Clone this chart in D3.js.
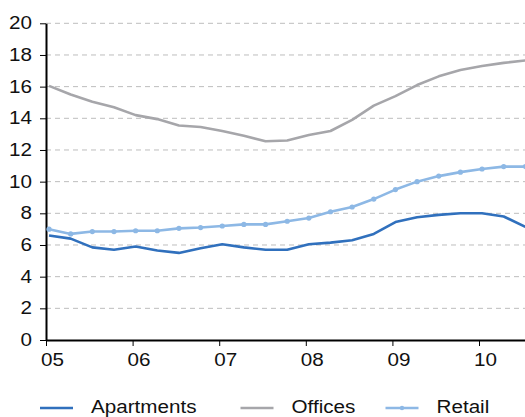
<!DOCTYPE html>
<html>
<head>
<meta charset="utf-8">
<script src="https://cdn.jsdelivr.net/npm/d3@7"></script>
<style>
  body { margin: 0; background: #fff; }
  text { font-family: Arial, "Liberation Sans", sans-serif; fill: #111; }
</style>
</head>
<body>
<div class="chart-wrapper"></div>
<script>
// quarterly series, Q1 2005 .. Q3 2010
let quarters = d3.range(23);
let apartments = [6.6, 6.4, 5.85, 5.7, 5.9, 5.65, 5.5, 5.8, 6.05, 5.85, 5.7, 5.7, 6.05, 6.15, 6.3, 6.7, 7.45, 7.75, 7.9, 8.0, 8.0, 7.8, 7.15];
let offices = [16.05, 15.5, 15.05, 14.7, 14.2, 13.95, 13.55, 13.45, 13.2, 12.9, 12.55, 12.6, 12.95, 13.2, 13.9, 14.8, 15.4, 16.1, 16.65, 17.05, 17.3, 17.5, 17.65];
let retail = [7.0, 6.7, 6.85, 6.85, 6.9, 6.9, 7.05, 7.1, 7.2, 7.3, 7.3, 7.5, 7.7, 8.1, 8.4, 8.9, 9.5, 10.0, 10.35, 10.6, 10.8, 10.95, 10.95];
let yearTicks = [2005, 2006, 2007, 2008, 2009, 2010];
let yTicks = [0, 2, 4, 6, 8, 10, 12, 14, 16, 18, 20];
let seriesNames = ["Apartments", "Offices", "Retail"];

let w = 525;
let h = 417;
let padLeft = 46;
let padTop = 23.3;
let axisBottom = 340;

let viz = d3.select(".chart-wrapper")
  .append("svg")
  .attr("width", w)
  .attr("height", h);

let xScale = d3.scaleLinear().domain([2005, 2010.531]).range([padLeft, w]);
let yScale = d3.scaleLinear().domain([0, 20]).range([axisBottom, padTop]);

// time of each quarterly point (plotted a little after quarter start)
let qTime = q => 2005 + (q + 0.14) / 4;

// the original text is a bit wider than Arial at the same height
function widen(sel){
  sel.each(function(){
    let len = this.getComputedTextLength();
    d3.select(this).attr("textLength", len * 1.18).attr("lengthAdjust", "spacingAndGlyphs");
  });
}

// gridlines
viz.append("g").selectAll("line")
  .data(yTicks.filter(d => d > 0))
  .enter().append("line")
  .attr("x1", padLeft).attr("x2", w)
  .attr("y1", d => yScale(d)).attr("y2", d => yScale(d))
  .attr("stroke", "#bdbdbd")
  .attr("stroke-width", 1)
  .attr("stroke-dasharray", "5,4");

// y axis
let yAxis = d3.axisLeft(yScale).tickValues(yTicks).tickSize(6).tickSizeOuter(0);
let yAxisGroup = viz.append("g")
  .attr("transform", "translate(" + padLeft + ",0)")
  .call(yAxis);
yAxisGroup.select(".domain").attr("stroke", "#000").attr("stroke-width", 2);
yAxisGroup.selectAll(".tick line").attr("stroke", "#000").attr("stroke-width", 1);
yAxisGroup.selectAll(".tick text")
  .attr("x", -14)
  .style("font-size", "17.5px")
  .style("font-family", "Arial, 'Liberation Sans', sans-serif")
  .attr("fill", "#111")
  .call(widen);

// x axis
let xAxis = d3.axisBottom(xScale).tickValues(yearTicks).tickSize(6).tickSizeOuter(0)
  .tickFormat(d => String(d).slice(2));
let xAxisGroup = viz.append("g")
  .attr("transform", "translate(0," + axisBottom + ")")
  .call(xAxis);
xAxisGroup.select(".domain").attr("stroke", "#000").attr("stroke-width", 2);
xAxisGroup.selectAll(".tick line").attr("stroke", "#000").attr("stroke-width", 1);
xAxisGroup.selectAll(".tick text")
  .attr("y", 14)
  .attr("dx", 6)
  .style("font-size", "17.5px")
  .style("font-family", "Arial, 'Liberation Sans', sans-serif")
  .attr("fill", "#111")
  .call(widen);

let line = d3.line()
  .x((d, i) => xScale(qTime(quarters[i])))
  .y(d => yScale(d));

let colors = { Apartments: "#3070bd", Offices: "#a6a6aa", Retail: "#8db8e5" };
let allSeries = [
  { name: "Offices", values: offices },
  { name: "Retail", values: retail },
  { name: "Apartments", values: apartments }
];

allSeries.forEach(s => {
  viz.append("path")
    .datum(s.values)
    .attr("d", line)
    .attr("fill", "none")
    .attr("stroke", colors[s.name])
    .attr("stroke-width", 2.6)
    .attr("stroke-linejoin", "round");
});

// retail markers
viz.append("g").selectAll("circle")
  .data(retail)
  .enter().append("circle")
  .attr("cx", (d, i) => xScale(qTime(quarters[i])))
  .attr("cy", d => yScale(d))
  .attr("r", 2.6)
  .attr("fill", colors.Retail);

// legend
let legendX = [40, 240.5, 385.5];
let legend = viz.append("g");
seriesNames.forEach((name, i) => {
  let g = legend.append("g").attr("transform", "translate(" + legendX[i] + ",408)");
  g.append("line")
    .attr("x1", 0).attr("x2", 33)
    .attr("stroke", colors[name])
    .attr("stroke-width", 2.6);
  if (name == "Retail") {
    g.append("circle").attr("cx", 16.5).attr("r", 2.2).attr("fill", colors[name]);
  }
  g.append("text")
    .attr("x", 51)
    .attr("y", 4.5)
    .style("font-size", "17.5px")
    .text(name)
    .call(widen);
});
</script>
</body>
</html>
